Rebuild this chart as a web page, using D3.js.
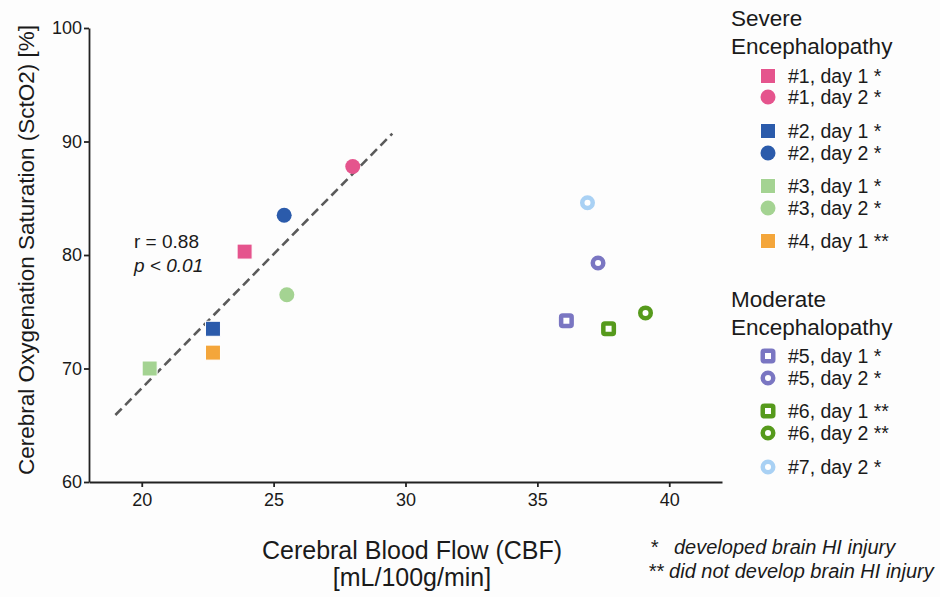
<!DOCTYPE html>
<html>
<head>
<meta charset="utf-8">
<script src="https://cdn.jsdelivr.net/npm/d3@7"></script>
<style>
  body { margin: 0; background: #fdfdfd; }
  text { font-family: "Liberation Sans", Arial, sans-serif; fill: #1a1a1a; }
</style>
</head>
<body>
<script>
// patients / measurements
let labels = ["#1, day 1 *", "#1, day 2 *", "#2, day 1 *", "#2, day 2 *",
              "#3, day 1 *", "#3, day 2 *", "#4, day 1 **",
              "#5, day 1 *", "#5, day 2 *", "#6, day 1 **", "#6, day 2 **",
              "#7, day 2 *"];
let cbf = [23.9, 28.0, 22.7, 25.4, 20.3, 25.5, 22.7, 36.1, 37.3, 37.7, 39.1, 36.9];
let scto2 = [80.3, 87.8, 73.5, 83.5, 70.0, 76.5, 71.4, 74.2, 79.3, 73.5, 74.9, 84.6];
let shapes = ["square", "circle", "square", "circle", "square", "circle", "square",
              "square", "circle", "square", "circle", "circle"];
let filled = [true, true, true, true, true, true, true,
              false, false, false, false, false];
let colors = ["#e5548d", "#e5548d", "#2b5bab", "#2b5bab", "#a4d392", "#a4d392",
              "#f4a63b", "#7a76c2", "#7a76c2", "#569a1c", "#569a1c", "#a9d1f4"];

// regression line end points
let fitX = [19.0, 29.5];
let fitY = [65.9, 90.7];

let xTicks = [20, 25, 30, 35, 40];
let yTicks = [60, 70, 80, 90, 100];

let svg = d3.select("body").append("svg")
            .attr("width", 940).attr("height", 597);

let x = d3.scaleLinear().domain([18, 42]).range([89, 722]);
let y = d3.scaleLinear().domain([60, 100]).range([482, 28]);

// axes
svg.append("g")
   .attr("transform", "translate(0,482)")
   .call(d3.axisBottom(x).tickValues(xTicks).tickSize(5).tickSizeOuter(0).tickPadding(6))
   .call(g => g.selectAll("text").attr("font-size", 18));

svg.append("g")
   .attr("transform", "translate(89,0)")
   .call(d3.axisLeft(y).tickValues(yTicks).tickSize(5).tickSizeOuter(0).tickPadding(2))
   .call(g => g.selectAll("text").attr("font-size", 18));

svg.selectAll(".domain, .tick line")
   .attr("stroke", "#222").attr("stroke-width", 1.8);

// axis titles
svg.append("text")
   .attr("transform", "translate(28,250) rotate(-90)")
   .attr("text-anchor", "middle").attr("dominant-baseline", "middle")
   .attr("font-size", 22.5)
   .text("Cerebral Oxygenation Saturation (SctO2) [%]");

svg.append("text").attr("x", 412).attr("y", 559)
   .attr("text-anchor", "middle").attr("font-size", 25)
   .text("Cerebral Blood Flow (CBF)");
svg.append("text").attr("x", 412).attr("y", 586)
   .attr("text-anchor", "middle").attr("font-size", 25)
   .text("[mL/100g/min]");

// regression line
svg.append("line")
   .attr("x1", x(fitX[0])).attr("y1", y(fitY[0]))
   .attr("x2", x(fitX[1])).attr("y2", y(fitY[1]))
   .attr("stroke", "#5a5a5a").attr("stroke-width", 2.6)
   .attr("stroke-dasharray", "9,5");

svg.append("text").attr("x", 134).attr("y", 248).attr("font-size", 19)
   .text("r = 0.88");
svg.append("text").attr("x", 134).attr("y", 272).attr("font-size", 19)
   .attr("font-style", "italic").text("p < 0.01");

// draw one marker
function marker(g, i, cx, cy, s) {
  let c = colors[i];
  let sw = 4.5;
  if (shapes[i] === "square") {
    if (filled[i]) {
      g.append("rect").attr("x", cx - s / 2).attr("y", cy - s / 2)
       .attr("width", s).attr("height", s).attr("fill", c)
       .attr("stroke", "#fff").attr("stroke-width", 1);
    } else {
      let w = s - sw;
      g.append("rect").attr("x", cx - w / 2).attr("y", cy - w / 2)
       .attr("width", w).attr("height", w).attr("rx", 1.5)
       .attr("fill", "#fff").attr("stroke", c).attr("stroke-width", sw);
    }
  } else {
    if (filled[i]) {
      g.append("circle").attr("cx", cx).attr("cy", cy).attr("r", s / 2)
       .attr("fill", c);
    } else {
      g.append("circle").attr("cx", cx).attr("cy", cy).attr("r", s / 2 - sw / 2)
       .attr("fill", "#fff").attr("stroke", c).attr("stroke-width", sw);
    }
  }
}

let pts = svg.append("g");
cbf.forEach(function(v, i) {
  marker(pts, i, x(v), y(scto2[i]), 15);
});

// legend
let legend = svg.append("g");
legend.append("text").attr("x", 731).attr("y", 26).attr("font-size", 22.5).text("Severe");
legend.append("text").attr("x", 731).attr("y", 54).attr("font-size", 22.5).text("Encephalopathy");
legend.append("text").attr("x", 731).attr("y", 307).attr("font-size", 22.5).text("Moderate");
legend.append("text").attr("x", 731).attr("y", 335).attr("font-size", 22.5).text("Encephalopathy");

let rowY = [76, 97, 131, 153, 186, 208, 241, 356, 378, 411, 433, 467];
labels.forEach(function(l, i) {
  marker(legend, i, 768, rowY[i], 15);
  legend.append("text").attr("x", 788).attr("y", rowY[i])
        .attr("dominant-baseline", "central").attr("font-size", 19.5).text(l);
});

// footnotes
let notes = svg.append("g");
notes.append("text").attr("x", 650).attr("y", 554).attr("font-size", 20)
     .attr("font-style", "italic").text("*");
notes.append("text").attr("x", 674).attr("y", 554).attr("font-size", 20)
     .attr("font-style", "italic").text("developed brain HI injury");
notes.append("text").attr("x", 648).attr("y", 578).attr("font-size", 20)
     .attr("font-style", "italic").text("** did not develop brain HI injury");
</script>
</body>
</html>
